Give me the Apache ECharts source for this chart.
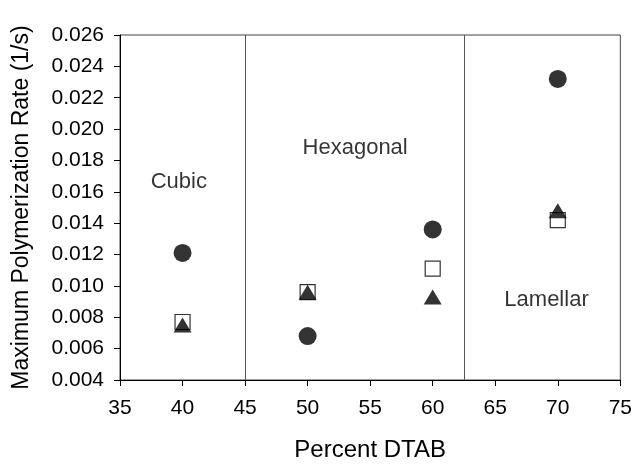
<!DOCTYPE html>
<html><head><meta charset="utf-8">
<script src="https://cdn.jsdelivr.net/npm/echarts@6/dist/echarts.min.js"></script>
<style>html,body{margin:0;padding:0;background:#fff}#c{width:635px;height:467px}</style>
</head><body><div id="c"></div>
<script>
const percentDTAB = [40, 50, 60, 70];
const circleRate = [0.0121, 0.0068, 0.0136, 0.0232];
const squareRate = [0.0077, 0.0096, 0.0111, 0.0142];
const triangleRate = [0.0075, 0.0096, 0.0093, 0.0148];
const phaseBoundaries = [45, 62.5];
const phaseNames = ['Cubic', 'Hexagonal', 'Lamellar'];
const phaseLabelX = [39.7, 53.8, 69.1];
const phaseLabelY = [0.0166, 0.0188, 0.0091];

const font = 'Liberation Sans, Arial, sans-serif';
const pts = ys => percentDTAB.map((x, i) => [x, ys[i]]);

const chart = echarts.init(document.getElementById('c'), null, {renderer: 'canvas'});
chart.setOption({
  animation: false,
  grid: {left: 120, right: 14, top: 35, bottom: 80, show: true, borderColor: '#444', borderWidth: 1, backgroundColor: 'transparent'},
  xAxis: {
    type: 'value', min: 35, max: 75, interval: 5,
    name: 'Percent DTAB', nameLocation: 'middle', nameGap: 58,
    nameTextStyle: {fontFamily: font, fontSize: 24, color: '#000'},
    axisLine: {show: true, lineStyle: {color: '#000', width: 1}},
    axisTick: {show: true, inside: false, length: 6, lineStyle: {color: '#000'}},
    axisLabel: {fontFamily: font, fontSize: 21, color: '#000', margin: 18},
    splitLine: {show: false}
  },
  yAxis: {
    type: 'value', min: 0.004, max: 0.026, interval: 0.002,
    name: 'Maximum Polymerization Rate (1/s)', nameLocation: 'middle', nameGap: 87,
    nameTextStyle: {fontFamily: font, fontSize: 23, color: '#000'},
    axisLine: {show: true, lineStyle: {color: '#000', width: 1}},
    axisTick: {show: true, inside: false, length: 6, lineStyle: {color: '#000'}},
    axisLabel: {fontFamily: font, fontSize: 21, color: '#000', margin: 16, formatter: v => v.toFixed(3)},
    splitLine: {show: false}
  },
  series: [
    {
      type: 'scatter', name: 'circle', data: pts(circleRate), symbol: 'circle', symbolSize: 18,
      itemStyle: {color: '#000'},
      markLine: {
        silent: true, symbol: 'none', label: {show: false},
        lineStyle: {color: '#555', width: 1, type: 'solid'},
        data: phaseBoundaries.map(x => ({xAxis: x}))
      }
    },
    {
      type: 'scatter', name: 'square', data: pts(squareRate), symbol: 'rect', symbolSize: 15,
      itemStyle: {color: '#fff', borderColor: '#000', borderWidth: 1.2}
    },
    {
      type: 'scatter', name: 'triangle', data: pts(triangleRate), symbol: 'triangle', symbolSize: [18, 15],
      itemStyle: {color: '#000'}
    },
    {
      type: 'scatter', name: 'labels', symbolSize: 0, silent: true,
      data: phaseNames.map((n, i) => ({name: n, value: [phaseLabelX[i], phaseLabelY[i]]})),
      label: {show: true, position: 'inside', formatter: p => p.name, fontFamily: font, fontSize: 22, color: '#000'}
    }
  ]
});
</script></body></html>
